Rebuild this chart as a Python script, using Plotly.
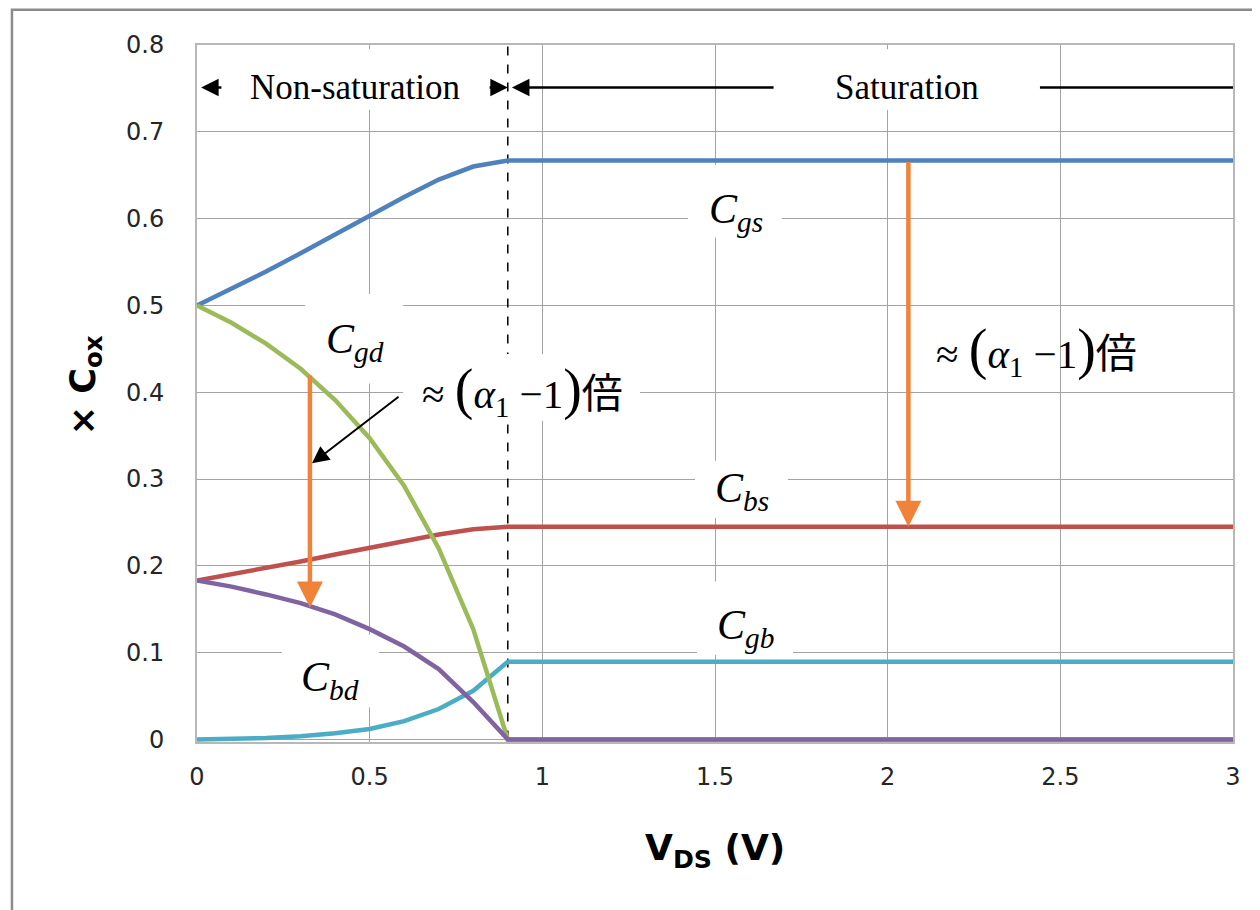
import plotly.graph_objects as go

# ---- data ----
vds = [0.0, 0.1, 0.2, 0.3, 0.4, 0.5, 0.6, 0.7, 0.8, 0.9, 1.0, 1.5, 2.0, 2.5, 3.0]
cgs = [0.500, 0.519, 0.539, 0.560, 0.582, 0.604, 0.625, 0.645, 0.660, 0.667,
       0.667, 0.667, 0.667, 0.667, 0.667]
cgd = [0.500, 0.480, 0.456, 0.427, 0.391, 0.347, 0.292, 0.220, 0.127, 0.000,
       0.000, 0.000, 0.000, 0.000, 0.000]
cbs = [0.183, 0.190, 0.198, 0.205, 0.213, 0.221, 0.229, 0.236, 0.242, 0.245,
       0.245, 0.245, 0.245, 0.245, 0.245]
cbd = [0.183, 0.176, 0.167, 0.157, 0.144, 0.127, 0.107, 0.081, 0.043, 0.000,
       0.000, 0.000, 0.000, 0.000, 0.000]
cgb = [0.000, 0.0005, 0.0015, 0.0035, 0.007, 0.012, 0.021, 0.035, 0.056, 0.0895,
       0.0895, 0.0895, 0.0895, 0.0895, 0.0895]

x_ticks = [0, 0.5, 1, 1.5, 2, 2.5, 3]
x_tick_text = ["0", "0.5", "1", "1.5", "2", "2.5", "3"]
y_ticks = [0, 0.1, 0.2, 0.3, 0.4, 0.5, 0.6, 0.7, 0.8]
y_tick_text = ["0", "0.1", "0.2", "0.3", "0.4", "0.5", "0.6", "0.7", "0.8"]

vdsat = 0.9

series = [
    ("Cgs", cgs, "#4F81BD"),
    ("Cbs", cbs, "#C0504D"),
    ("Cgb", cgb, "#4BACC6"),
    ("Cgd", cgd, "#9BBB59"),
    ("Cbd", cbd, "#8064A2"),
]

fig = go.Figure()
for name, vals, col in series:
    fig.add_trace(go.Scatter(x=vds, y=vals, mode="lines", name=name,
                             line=dict(color=col, width=4.5), showlegend=False,
                             hoverinfo="skip"))

SERIF = "Liberation Serif, Times New Roman, Noto Sans CJK JP, serif"

shapes = []
# outer chart border
shapes.append(dict(type="rect", xref="paper", yref="paper",
                   x0=-0.1786, x1=1.06, y0=-0.4, y1=1.0505,
                   line=dict(color="#8c8c8c", width=2.5), fillcolor="rgba(0,0,0,0)",
                   layer="below"))
# dashed boundary line at VDsat
shapes.append(dict(type="line", xref="x", yref="y", x0=vdsat, x1=vdsat, y0=0, y1=0.8,
                   line=dict(color="black", width=1.5, dash="dash"), layer="between"))

# white label boxes (cover gridlines, under curves)
boxes = [
    (0.081, 0.82, 0.725, 0.795),    # Non-saturation
    (1.674, 2.441, 0.725, 0.795),   # Saturation
    (1.422, 1.694, 0.578, 0.662),   # Cgs
    (0.313, 0.597, 0.41, 0.513),    # Cgd
    (0.597, 1.283, 0.367, 0.444),   # ≈ label middle
    (1.442, 1.711, 0.255, 0.321),   # Cbs
    (1.448, 1.726, 0.0976, 0.182),  # Cgb
    (0.246, 0.527, 0.0367, 0.1205), # Cbd
]
for x0, x1, y0, y1 in boxes:
    shapes.append(dict(type="rect", xref="x", yref="y", x0=x0, x1=x1, y0=y0, y1=y1,
                       line=dict(width=0), fillcolor="white", layer="between"))

# saturation arrow right-hand line segment
shapes.append(dict(type="line", xref="x", yref="y", x0=2.441, x1=3.0, y0=0.751, y1=0.751,
                   line=dict(color="black", width=2.5), layer="above"))

annotations = []

def arrow(x, y, ax, ay, color="black", width=2.5, size=1.4):
    annotations.append(dict(x=x, y=y, ax=ax, ay=ay, xref="x", yref="y",
                            axref="x", ayref="y", text="", showarrow=True,
                            arrowhead=2, arrowsize=size, arrowwidth=width,
                            arrowcolor=color, standoff=0, startstandoff=0))

def label(x, y, text, size=42):
    annotations.append(dict(x=x, y=y, xref="x", yref="y", text=text, showarrow=False,
                            font=dict(family=SERIF, size=size, color="black"),
                            xanchor="center", yanchor="middle"))

# top region arrows
arrow(0.012, 0.751, 0.075, 0.751)
arrow(0.9, 0.751, 0.843, 0.751)
arrow(0.912, 0.751, 1.674, 0.751)
label(0.458, 0.751, "Non-saturation", size=35)
label(2.056, 0.751, "Saturation", size=35)

# curve labels
label(1.561, 0.608, "<i>C</i><sub><i>gs</i></sub>")
label(0.458, 0.458, "<i>C</i><sub><i>gd</i></sub>")
label(1.578, 0.286, "<i>C</i><sub><i>bs</i></sub>")
label(1.587, 0.128, "<i>C</i><sub><i>gb</i></sub>")
label(0.385, 0.068, "<i>C</i><sub><i>bd</i></sub>")

ratio_txt = ("≈ <span style='font-size:56px'>(</span><i>α</i><sub>1</sub> −1"
             "<span style='font-size:56px'>)</span>倍")
label(0.944, 0.402, ratio_txt, size=41)
label(2.43, 0.448, ratio_txt, size=41)

# orange ratio arrows
arrow(0.327, 0.152, 0.327, 0.421, color="#F0823A", width=4.5, size=1.15)
arrow(2.06, 0.245, 2.06, 0.667, color="#F0823A", width=4.5, size=1.15)
# black pointer arrow
arrow(0.333, 0.318, 0.588, 0.396, width=2, size=1.7)

# axis titles
annotations.append(dict(x=-0.108, y=0.512, xref="paper", yref="paper",
                        text="<b>× C<sub>ox</sub></b>", textangle=-90, showarrow=False,
                        font=dict(family="DejaVu Sans", size=35, color="black"),
                        xanchor="center", yanchor="middle"))
annotations.append(dict(x=0.5, y=-0.155, xref="paper", yref="paper",
                        text="<b>V<sub>DS</sub> (V)</b>", showarrow=False,
                        font=dict(family="DejaVu Sans", size=36, color="black"),
                        xanchor="center", yanchor="middle"))

# page body has an 8px margin, so the figure is shifted by 8px; compensate
fig.update_layout(
    width=1252, height=902,
    margin=dict(l=189, r=27, t=37, b=168),
    paper_bgcolor="white", plot_bgcolor="white",
    shapes=shapes, annotations=annotations,
    xaxis=dict(range=[0, 3], tickvals=x_ticks, ticktext=x_tick_text,
               showgrid=True, gridcolor="#a3a3a3", gridwidth=1.3,
               showline=True, mirror=True, linecolor="#b8b8b8", linewidth=2,
               zeroline=False, ticks="", ticklabelstandoff=12,
               tickfont=dict(family="DejaVu Sans", size=24, color="#262626")),
    yaxis=dict(range=[-0.003, 0.8], tickvals=y_ticks, ticktext=y_tick_text,
               showgrid=True, gridcolor="#a3a3a3", gridwidth=1.3,
               showline=True, mirror=True, linecolor="#b8b8b8", linewidth=2,
               zeroline=False, ticks="", ticklabelstandoff=26,
               tickfont=dict(family="DejaVu Sans", size=24, color="#262626")),
)

fig.write_html("out.html")
